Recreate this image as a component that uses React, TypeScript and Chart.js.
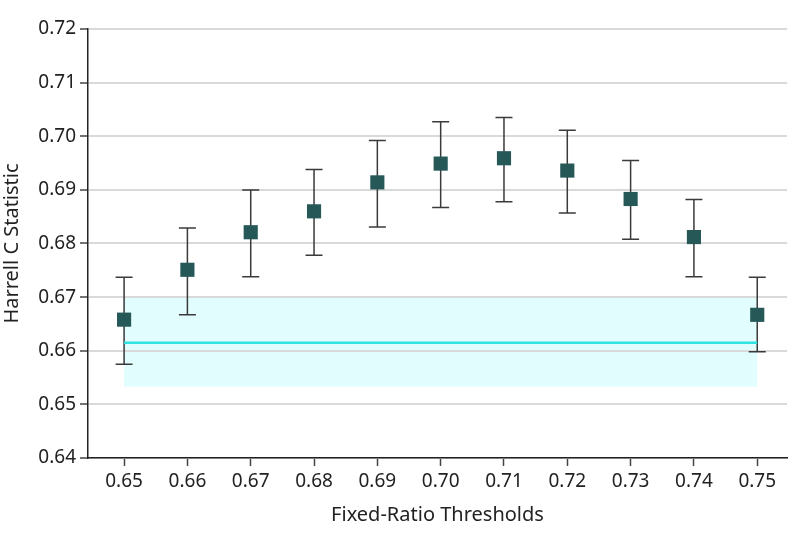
import React, { useEffect, useRef } from "react";
import { Chart, registerables } from "chart.js";

Chart.register(...registerables);

const thresholds = [0.65, 0.66, 0.67, 0.68, 0.69, 0.7, 0.71, 0.72, 0.73, 0.74, 0.75];
const cStatistic = [0.6658, 0.6751, 0.6821, 0.686, 0.6914, 0.6949, 0.6959, 0.6936, 0.6883, 0.6812, 0.6667];
const ciLower = [0.6575, 0.6667, 0.6738, 0.6778, 0.6831, 0.6867, 0.6878, 0.6857, 0.6808, 0.6738, 0.6598];
const ciUpper = [0.6737, 0.6829, 0.69, 0.6938, 0.6992, 0.7027, 0.7035, 0.7011, 0.6955, 0.6882, 0.6737];
const referenceC = 0.6615;
const referenceLower = 0.6533;
const referenceUpper = 0.6699;
const yTicks = [0.64, 0.65, 0.66, 0.67, 0.68, 0.69, 0.7, 0.71, 0.72];

const FONT = "'Noto Sans', sans-serif";

const bandPlugin = {
  id: "refBand",
  beforeDraw(chart: any) {
    const { ctx, scales } = chart;
    const xs = scales.x;
    const ys = scales.y;
    const x0 = xs.getPixelForValue(thresholds[0]);
    const x1 = xs.getPixelForValue(thresholds[thresholds.length - 1]);
    const y0 = ys.getPixelForValue(referenceUpper);
    const y1 = ys.getPixelForValue(referenceLower);
    ctx.save();
    ctx.fillStyle = "#e2fdfd";
    ctx.fillRect(x0, y0, x1 - x0, y1 - y0);
    ctx.restore();
  },
};

const errorBarPlugin = {
  id: "errorBars",
  beforeDatasetsDraw(chart: any) {
    const { ctx, scales } = chart;
    const xs = scales.x;
    const ys = scales.y;
    ctx.save();
    ctx.strokeStyle = "#3a3a3a";
    ctx.lineWidth = 1.5;
    const half = 8.5;
    thresholds.forEach((t, i) => {
      const x = xs.getPixelForValue(t);
      const yl = ys.getPixelForValue(ciLower[i]);
      const yu = ys.getPixelForValue(ciUpper[i]);
      ctx.beginPath();
      ctx.moveTo(x, yl);
      ctx.lineTo(x, yu);
      ctx.moveTo(x - half, yl);
      ctx.lineTo(x + half, yl);
      ctx.moveTo(x - half, yu);
      ctx.lineTo(x + half, yu);
      ctx.stroke();
    });
    ctx.restore();
  },
};

export default function App() {
  const ref = useRef<HTMLCanvasElement | null>(null);
  useEffect(() => {
    if (!ref.current) return;
    const chart = new Chart(ref.current, {
      type: "scatter",
      data: {
        datasets: [
          {
            type: "line",
            label: "Reference",
            data: [
              { x: thresholds[0], y: referenceC },
              { x: thresholds[thresholds.length - 1], y: referenceC },
            ],
            borderColor: "#30e2e2",
            borderWidth: 2.5,
            pointRadius: 0,
            fill: false,
          } as any,
          {
            label: "Harrell C",
            data: thresholds.map((t, i) => ({ x: t, y: cStatistic[i] })),
            backgroundColor: "#265858",
            borderColor: "#265858",
            borderWidth: 0,
            pointStyle: "rect",
            pointRadius: 10,
          },
        ],
      },
      options: {
        animation: false,
        responsive: false,
        maintainAspectRatio: false,
        layout: { padding: { top: 29, right: 11, left: 0, bottom: 16 } },
        plugins: {
          legend: { display: false },
          tooltip: { enabled: false },
        },
        scales: {
          x: {
            type: "linear",
            min: 0.6443,
            max: 0.7547,
            afterBuildTicks: (axis: any) => {
              axis.ticks = thresholds.map((v) => ({ value: v }));
            },
            afterFit: (axis: any) => {
              axis.height = 69;
            },
            border: { display: true, color: "#222", width: 1.5 },
            grid: {
              display: true,
              drawOnChartArea: false,
              drawTicks: true,
              tickLength: 8,
              tickColor: "#444",
              tickWidth: 1.5,
            },
            ticks: {
              color: "#222",
              font: { family: FONT, size: 19 },
              padding: 4,
              maxRotation: 0,
              autoSkip: false,
              callback: (v: any) => Number(v).toFixed(2),
            },
            title: {
              display: true,
              text: "Fixed-Ratio Thresholds",
              color: "#222",
              font: { family: FONT, size: 20 },
              padding: { top: 6, bottom: 0 },
            },
          },
          y: {
            min: 0.64,
            max: 0.72,
            afterBuildTicks: (axis: any) => {
              axis.ticks = yTicks.map((v) => ({ value: v }));
            },
            afterFit: (axis: any) => {
              axis.width = 88;
            },
            border: { display: true, color: "#222", width: 1.5 },
            grid: {
              color: "#d9d9d9",
              lineWidth: 2,
              drawTicks: true,
              tickLength: 8,
              tickColor: "#444",
              tickWidth: 1.5,
            },
            ticks: {
              color: "#222",
              font: { family: FONT, size: 19 },
              padding: 4,
              callback: (v: any) => Number(v).toFixed(2),
            },
            title: {
              display: true,
              text: "Harrell C Statistic",
              color: "#222",
              font: { family: FONT, size: 20 },
              padding: { top: 0, bottom: 0 },
            },
          },
        },
      },
      plugins: [bandPlugin, errorBarPlugin],
    });
    return () => chart.destroy();
  }, []);
  return (
    <div style={{ position: "fixed", left: 0, top: 0, width: 798, height: 543, background: "#fff" }}>
      <canvas ref={ref} width={798} height={543} style={{ display: "block" }} />
    </div>
  );
}
